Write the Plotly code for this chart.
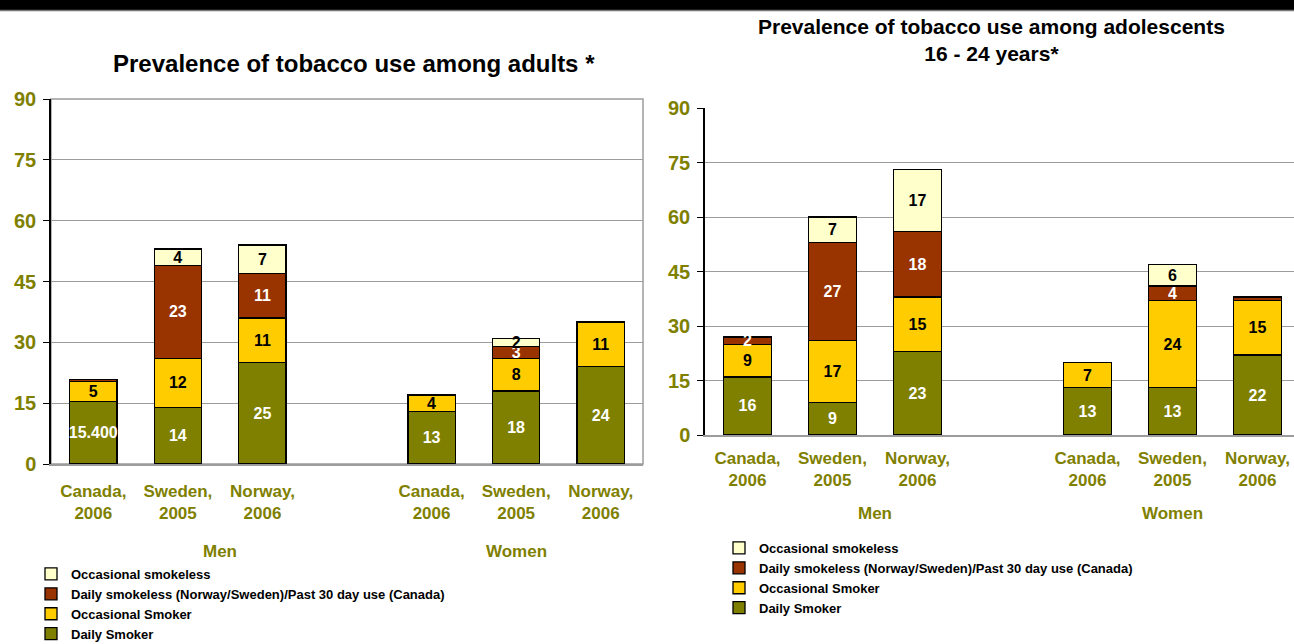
import plotly.graph_objects as go

# ---- data -------------------------------------------------------------
groups = ["Men", "Women"]
countries = ["Canada,<br>2006", "Sweden,<br>2005", "Norway,<br>2006"]
series = ["Daily Smoker", "Occasional Smoker",
          "Daily smokeless (Norway/Sweden)/Past 30 day use (Canada)",
          "Occasional smokeless"]

# adults: Men (Canada, Sweden, Norway) then Women (Canada, Sweden, Norway)
adult_daily_smoker = [15.4, 14, 25, 13, 18, 24]
adult_occasional_smoker = [5, 12, 11, 4, 8, 11]
adult_daily_smokeless = [0.5, 23, 11, None, 3, None]
adult_occasional_smokeless = [None, 4, 7, None, 2, None]

# adolescents 16 - 24 years
youth_daily_smoker = [16, 9, 23, 13, 13, 22]
youth_occasional_smoker = [9, 17, 15, 7, 24, 15]
youth_daily_smokeless = [2, 27, 18, None, 4, 1]
youth_occasional_smokeless = [None, 7, 17, None, 6, None]

y_ticks = [0, 15, 30, 45, 60, 75, 90]

# ---- styling ----------------------------------------------------------
colors = ["#808000", "#FFCC00", "#993300", "#FFFFCC"]
text_colors = ["white", "black", "white", "black"]
OLIVE = "#808000"
GRID = "#9c9c9c"
FONT = "Liberation Sans, Arial, sans-serif"
W, H = 1294, 644


def px_y(v):
    return 1 - v / H


# slot positions: three countries per group, one empty slot between groups
n_c = len(countries)
xpos = [g * (n_c + 1) + c for g in range(len(groups)) for c in range(n_c)]
group_centres = [g * (n_c + 1) + (n_c - 1 + (1 if g == 0 else 0)) / 2
                 for g in range(len(groups))]
tick_text = countries * len(groups)


def fmt(v):
    if v is None or v < 1.5:
        return ""
    return f"{v:.0f}" if float(v).is_integer() else f"{v:.3f}"


fig = go.Figure()

panels = [
    ("x", "y", "legend",
     [adult_daily_smoker, adult_occasional_smoker,
      adult_daily_smokeless, adult_occasional_smokeless]),
    ("x2", "y2", "legend2",
     [youth_daily_smoker, youth_occasional_smoker,
      youth_daily_smokeless, youth_occasional_smokeless]),
]

for xa, ya, lg, values in panels:
    for name, vals, col, tcol in zip(series, values, colors, text_colors):
        fig.add_trace(go.Bar(
            x=xpos, y=vals, name=name, xaxis=xa, yaxis=ya, legend=lg,
            marker=dict(color=col, line=dict(color="black", width=1.3)),
            width=0.56,
            text=[fmt(v) for v in vals], textposition="inside",
            insidetextanchor="middle", textangle=0, constraintext="none",
            insidetextfont=dict(color=tcol, size=16, family=FONT,
                                weight="bold"),
            hoverinfo="skip",
        ))


def x_axis(domain, rng, anchor, standoff):
    return dict(
        domain=domain, range=rng, anchor=anchor,
        tickmode="array", tickvals=xpos, ticktext=tick_text,
        ticks="", showgrid=False, zeroline=False,
        tickfont=dict(color=OLIVE, size=17, family=FONT, weight="bold"),
        ticklabelstandoff=standoff,
        showline=True, linecolor=GRID, linewidth=1.5,
    )


def y_axis(domain, anchor):
    return dict(
        domain=domain, anchor=anchor,
        range=[0, 90], tickmode="array", tickvals=y_ticks,
        showgrid=True, gridcolor=GRID, gridwidth=1, zeroline=False,
        showline=True, linecolor="black", linewidth=1.5,
        ticks="outside", ticklen=6, tickcolor="black",
        tickfont=dict(color=OLIVE, size=20, family=FONT, weight="bold"),
        ticklabelstandoff=3,
    )


fig.update_layout(
    width=W, height=H,
    margin=dict(l=0, r=0, t=0, b=0, autoexpand=False),
    paper_bgcolor="white", plot_bgcolor="white",
    barmode="stack",
    showlegend=True,
    font=dict(family=FONT),
    xaxis=x_axis([51 / W, 643 / W], [-0.5, 6.5], "y", 11),
    yaxis=y_axis([px_y(464), px_y(99)], "x"),
    xaxis2=x_axis([705 / W, 1.0], [-0.5, -0.5 + (W - 705) / 85.0], "y2", 7),
    yaxis2=y_axis([px_y(435), px_y(108)], "x2"),
    legend=dict(x=31 / W, y=px_y(559), xanchor="left", yanchor="top",
                traceorder="reversed", bgcolor="rgba(0,0,0,0)",
                font=dict(size=13, color="black", family=FONT,
                          weight="bold"),
                itemwidth=30, tracegroupgap=0),
    legend2=dict(x=719 / W, y=px_y(533), xanchor="left", yanchor="top",
                 traceorder="reversed", bgcolor="rgba(0,0,0,0)",
                 font=dict(size=13, color="black", family=FONT,
                           weight="bold"),
                 itemwidth=30, tracegroupgap=0),
)

# frame of the adults panel (grey top and right edges)
fig.add_shape(type="rect", xref="x domain", yref="y domain",
              x0=0, x1=1, y0=0, y1=1,
              line=dict(color=GRID, width=1.5), layer="below")

# dark band along the top of the page
fig.add_shape(type="rect", xref="paper", yref="paper",
              x0=0, x1=1, y0=px_y(10), y1=1,
              fillcolor="black", line=dict(width=0))
fig.add_shape(type="line", xref="paper", yref="paper",
              x0=0, x1=1, y0=px_y(10.5), y1=px_y(10.5),
              line=dict(color="#777777", width=1.5))

# titles
fig.add_annotation(text="Prevalence of tobacco use among adults *",
                   xref="paper", yref="paper", x=354 / W, y=px_y(64),
                   xanchor="center", yanchor="middle", showarrow=False,
                   font=dict(size=24, color="black", family=FONT,
                             weight="bold"))
fig.add_annotation(text="Prevalence of tobacco use among adolescents<br>16 - 24 years*",
                   xref="paper", yref="paper", x=992 / W, y=px_y(40.5),
                   xanchor="center", yanchor="middle", showarrow=False,
                   font=dict(size=21, color="black", family=FONT,
                             weight="bold"))

# group labels under the country ticks
for xa, ypix in (("x", 551), ("x2", 513)):
    for gname, gx in zip(groups, group_centres):
        fig.add_annotation(text=gname, xref=xa, yref="paper", x=gx,
                           y=px_y(ypix), xanchor="center", yanchor="middle",
                           showarrow=False,
                           font=dict(size=17, color=OLIVE, family=FONT,
                                     weight="bold"))

fig.write_html("out.html")
